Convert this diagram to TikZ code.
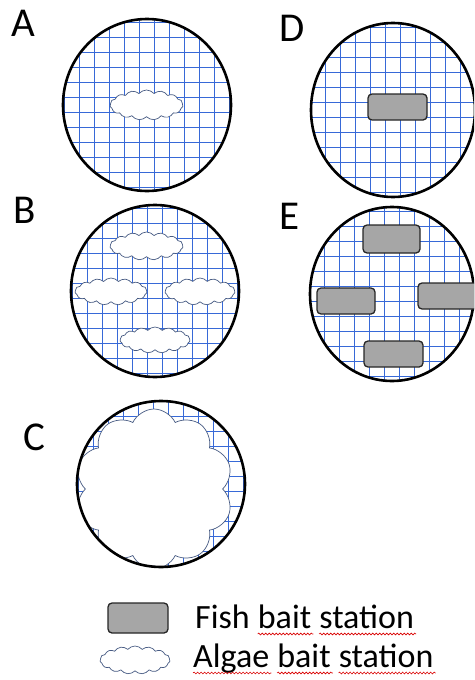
\documentclass[tikz,border=0pt]{standalone}
\usepackage{fontspec}
\setmainfont{Carlito}
\usetikzlibrary{shapes.symbols,decorations.pathmorphing}
\definecolor{gridblue}{RGB}{55,105,215}
\definecolor{cloudline}{RGB}{70,90,130}
\definecolor{baitgray}{RGB}{166,166,166}
\newcommand\dishgrid[4]{%
  \begin{scope}
    \clip (#1,#2) ellipse [x radius=#3pt, y radius=#4pt];
    \foreach \gx in {-7,...,6}
      \draw[gridline] (#1+\gx*15+7.5,#2-#4-3) -- (#1+\gx*15+7.5,#2+#4+3);
    \foreach \gy in {-7,...,6}
      \draw[gridline] (#1-#3-3,#2+\gy*15+7.5) -- (#1+#3+3,#2+\gy*15+7.5);
  \end{scope}}
\begin{document}
\begin{tikzpicture}[x=1pt,y=-1pt,
  rim/.style={draw=black,line width=2.6pt},
  gridline/.style={draw=gridblue,line width=1pt},
  alga/.style={cloud,cloud puffs=15,cloud puff arc=100,draw=cloudline,line width=0.7pt,fill=white,inner sep=0pt},
  fishbox/.style={rectangle,rounded corners=4pt,draw=black!85,line width=1.3pt,fill=baitgray,inner sep=0pt},
  lbl/.style={font=\fontsize{41}{41}\selectfont,inner sep=0pt},
  lg/.style={font=\fontsize{34}{34}\selectfont,inner sep=0pt,anchor=base west},
  wave/.style={draw=red!85!black,line width=0.6pt,decorate,decoration={snake,amplitude=0.9pt,segment length=3.5pt}}]
\useasboundingbox (0,0) rectangle (474,680);
\clip (0,0) rectangle (474,680);

% labels
\node[lbl] (labA) at (23,23) {A};
\node[lbl] (labD) at (292,28) {D};
\node[lbl] (labB) at (25,210) {B};
\node[lbl] (labE) at (290,216) {E};
\node[lbl] (labC) at (34,437) {C};

% dish A
\dishgrid{147}{105}{84}{86}
\draw[rim] (147,105) ellipse [x radius=84pt, y radius=86pt];
\node[alga,minimum width=73pt,minimum height=30pt] (cloudA) at (146.5,105) {};

% dish D
\dishgrid{393}{110}{82}{87}
\draw[rim] (393,110) ellipse [x radius=82pt, y radius=87pt];
\node[fishbox,minimum width=59pt,minimum height=26pt] (boxD) at (397.5,107) {};

% dish B
\dishgrid{155}{291}{84}{86}
\draw[rim] (155,291) ellipse [x radius=84pt, y radius=86pt];
\node[alga,minimum width=73pt,minimum height=28pt] (cloudB1) at (146.5,246) {};
\node[alga,minimum width=72pt,minimum height=27pt] (cloudB2) at (111,291.5) {};
\node[alga,minimum width=70pt,minimum height=27pt] (cloudB3) at (200,291.5) {};
\node[alga,minimum width=70pt,minimum height=26pt] (cloudB4) at (155,340) {};

% dish E
\dishgrid{392}{294}{82}{87}
\draw[rim] (392,294) ellipse [x radius=82pt, y radius=87pt];
\node[fishbox,minimum width=57pt,minimum height=28pt] (boxE1) at (391.5,239) {};
\node[fishbox,minimum width=58pt,minimum height=26pt] (boxE2) at (346,301) {};
\node[fishbox,minimum width=62pt,minimum height=26pt] (boxE3) at (449,296) {};
\node[fishbox,minimum width=59pt,minimum height=26pt] (boxE4) at (393.5,354) {};

% dish C
\dishgrid{161}{484}{84}{83}
\begin{scope}
  \clip (161,484) ellipse [x radius=83pt, y radius=82pt];
  \node[alga,cloud puffs=10,cloud puff arc=130,minimum width=158pt,minimum height=160pt] (cloudC) at (154,489) {};
\end{scope}
\draw[rim] (161,484) ellipse [x radius=84pt, y radius=83pt];

% legend
\node[fishbox,minimum width=60pt,minimum height=30pt] (keybox) at (138,618) {};
\node[alga,minimum width=70pt,minimum height=28pt] (keycloud) at (135,660) {};
\node[lg] (f1) at (195,628) {Fish};
\node[lg] (f2) at ([xshift=7.7pt]f1.base east) {bait};
\node[lg] (f3) at ([xshift=7.7pt]f2.base east) {station};
\node[lg] (a1) at (193,667) {Algae};
\node[lg] (a2) at ([xshift=7.7pt]a1.base east) {bait};
\node[lg] (a3) at ([xshift=7.7pt]a2.base east) {station};
\foreach \w in {f2,f3,a1,a2,a3}
  \draw[wave] ([yshift=-6pt]\w.base west) -- ([yshift=-6pt,xshift=2pt]\w.base east);
\end{tikzpicture}
\end{document}
